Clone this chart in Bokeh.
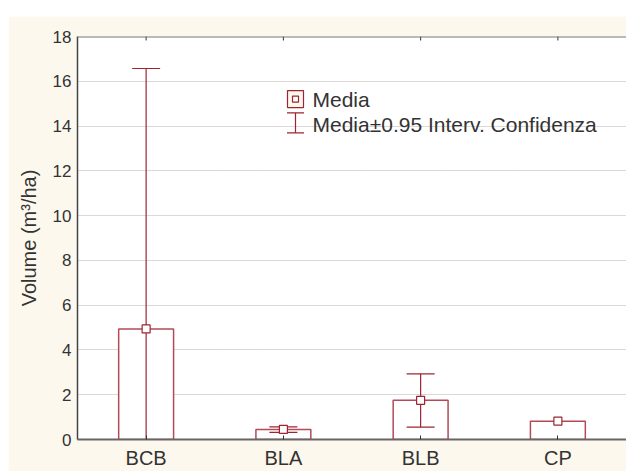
import math
from bokeh.plotting import figure
from bokeh.models import FixedTicker, ColumnDataSource, Span
from bokeh.core.properties import value
from bokeh.embed import file_html
from bokeh.resources import INLINE

# ---- data ----
categories = ["BCB", "BLA", "BLB", "CP"]
means = [4.94, 0.45, 1.75, 0.82]
ci_low = [-6.70, 0.32, 0.55, float("nan")]
ci_high = [16.57, 0.56, 2.93, float("nan")]
y_ticks = [0, 2, 4, 6, 8, 10, 12, 14, 16, 18]
legend_labels = ["Media", "Media\u00b10.95 Interv. Confidenza"]

FONT = "Liberation Sans"
TXT = "#333333"
CREAM = "#fdf8ee"
BAR_LINE = "#b24a57"
CI_LINE = "#9c2433"
Y_MAX = y_ticks[-1]

xs = list(range(len(categories)))
src = ColumnDataSource(dict(x=xs, mean=means, lo=ci_low, hi=ci_high, top=[Y_MAX] * len(xs)))

OX, OY = 8, 16          # figure offset on the page
W, H = 618, 455
ML, MT, MB, MR = 69, 20, 29, 0
p = figure(width=W, height=H, x_range=(-0.5, len(categories) - 0.5), y_range=(0, Y_MAX),
           output_backend="svg", toolbar_location=None,
           min_border_left=ML, min_border_top=MT, min_border_bottom=MB, min_border_right=MR,
           border_fill_color=CREAM, background_fill_color="white")
p.margin = (OY, 0, 0, OX)
p.outline_line_color = None

# axes
p.xaxis.ticker = FixedTicker(ticks=xs)
p.xaxis.major_label_overrides = {i: c for i, c in enumerate(categories)}
p.xaxis.major_tick_in = 4
p.xaxis.major_tick_out = 0
p.xaxis.minor_tick_line_color = None
p.xaxis.axis_line_color = "#666666"
p.xaxis.axis_line_width = 2
p.xaxis.major_tick_line_color = "#333333"
p.xaxis.major_label_text_font = FONT
p.xaxis.major_label_text_font_size = "20px"
p.xaxis.major_label_text_color = TXT
p.xaxis.major_label_standoff = 7

p.yaxis.ticker = FixedTicker(ticks=y_ticks)
p.yaxis.major_tick_in = 0
p.yaxis.major_tick_out = 0
p.yaxis.minor_tick_line_color = None
p.yaxis.axis_line_color = "#444444"
p.yaxis.axis_line_width = 1.5
p.yaxis.major_label_text_font = FONT
p.yaxis.major_label_text_font_size = "17px"
p.yaxis.major_label_text_color = TXT
p.yaxis.major_label_standoff = 6
p.yaxis.axis_label = "Volume (m\u00b3/ha)"
p.yaxis.axis_label_text_font = FONT
p.yaxis.axis_label_text_font_size = "20px"
p.yaxis.axis_label_text_font_style = "normal"
p.yaxis.axis_label_text_color = TXT
p.yaxis.axis_label_standoff = 10

# top frame line with small inward ticks at the categories
p.add_layout(Span(location=Y_MAX, dimension="width", line_color="#777777", line_width=2))
p.scatter(x="x", y="top", marker="dash", angle=math.pi / 2, size=8, source=src,
          line_color="#333333", line_width=1)

p.xgrid.grid_line_color = None
p.ygrid.grid_line_color = "#b8b0b0"
p.ygrid.grid_line_dash = "1 1"
p.ygrid.grid_line_width = 1

# bars
p.vbar(x="x", top="mean", bottom=0, width=0.4, source=src,
       fill_color="white", line_color=BAR_LINE, line_width=1.5)
# CI stems and caps
p.segment(x0="x", y0="lo", x1="x", y1="hi", source=src, line_color=CI_LINE, line_width=1.2)
p.scatter(x="x", y="lo", marker="dash", size=28, source=src, line_color=CI_LINE, line_width=1.2)
p.scatter(x="x", y="hi", marker="dash", size=28, source=src, line_color=CI_LINE, line_width=1.2)
# mean markers
p.scatter(x="x", y="mean", marker="square", size=8, source=src,
          fill_color="white", line_color=CI_LINE, line_width=1.2)

# ---- legend (layout, pixel positions converted to data space) ----
frame_left = OX + ML
frame_right = OX + W - MR
frame_top = OY + MT
frame_bottom = OY + H - MB
def px_x(px):
    return (px - frame_left) / (frame_right - frame_left) * len(categories) - 0.5
def px_y(py):
    return (frame_bottom - py) / (frame_bottom - frame_top) * Y_MAX

lx = px_x(295)
p.rect(x=[lx], y=[px_y(99)], width=16, height=17, width_units="screen", height_units="screen",
       fill_color=CREAM, line_color=CI_LINE, line_width=1.2)
p.scatter(x=[lx], y=[px_y(99)], marker="square", size=6, fill_color="white",
          line_color=CI_LINE, line_width=1.2)
p.segment(x0=[lx], y0=[px_y(113)], x1=[lx], y1=[px_y(133)], line_color=CI_LINE, line_width=1.2)
p.scatter(x=[lx, lx], y=[px_y(113), px_y(133)], marker="dash", size=17,
          line_color=CI_LINE, line_width=1.2)
p.text(x=[px_x(312), px_x(312)], y=[px_y(99), px_y(125)], text=legend_labels,
       text_font=value(FONT), text_font_size="21px", text_color=TXT,
       text_baseline="middle", text_align="left")

open("out.html", "w").write(file_html(p, INLINE))
